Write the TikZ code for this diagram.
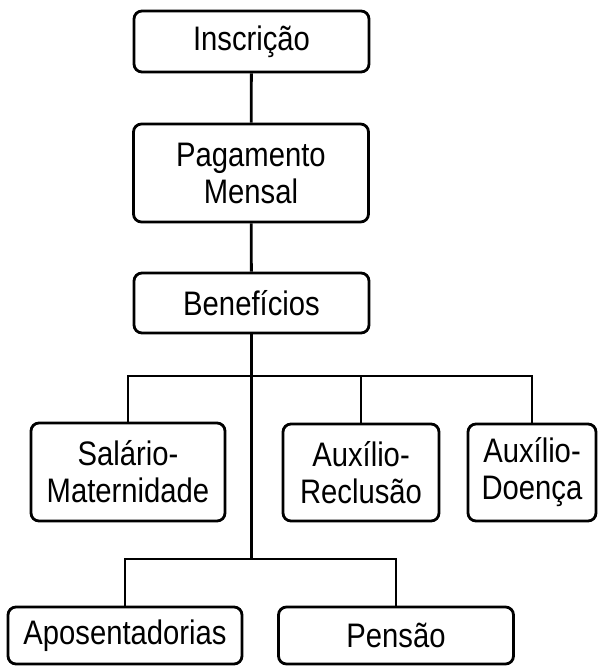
\documentclass[tikz,border=0pt]{standalone}
\usepackage{fontspec}
\setmainfont{Liberation Sans}[FakeStretch=0.86]
\usepackage{tikz}
\usetikzlibrary{positioning}

\tikzset{
    box/.style = {draw, line width=2.8pt, rounded corners=8pt, align=center,
        inner sep=0pt, font=\fontsize{34}{37}\selectfont},
    link/.style = {line width=2.8pt}
}

\begin{document}
\begin{tikzpicture}[x=1pt, y=-1pt]
    \useasboundingbox (0,0) rectangle (598,667);
    \node (insc) [box, minimum width=235pt, minimum height=61pt] at (251.5,41.5) {Inscrição};
    \node (pag) [box, minimum width=235pt, minimum height=98pt] at (251,173) {Pagamento\\Mensal};
    \node (ben) [box, minimum width=235pt, minimum height=60pt] at (251.5,303) {Benefícios};
    \node (sal) [box, minimum width=194pt, minimum height=98pt] at (128,472) {Salário-\\Maternidade};
    \node (recl) [box, minimum width=156pt, minimum height=97pt] at (361,472.5) {Auxílio-\\Reclusão};
    \node (doen) [box, minimum width=128pt, minimum height=97pt] at (532,472.5) {Auxílio-\\Doença};
    \node (apos) [box, minimum width=234pt, minimum height=57pt] at (125,635.5) {Aposentadorias};
    \node (pens) [box, minimum width=235pt, minimum height=57pt] at (396,635.5) {Pensão};
    \coordinate (hub1) at (252,376);
    \coordinate (hub2) at (252,559);
    \draw [link] (insc) -- (pag);
    \draw [link] (pag) -- (ben);
    \draw [link] (ben.south) -- (ben.south |- hub2);
    \draw [link] (sal.north) |- (doen.north |- hub1) -- (doen.north);
    \draw [link] (recl.north) -- (recl.north |- hub1);
    \draw [link] (apos.north) |- (pens.north |- hub2) -- (pens.north);
\end{tikzpicture}
\end{document}
